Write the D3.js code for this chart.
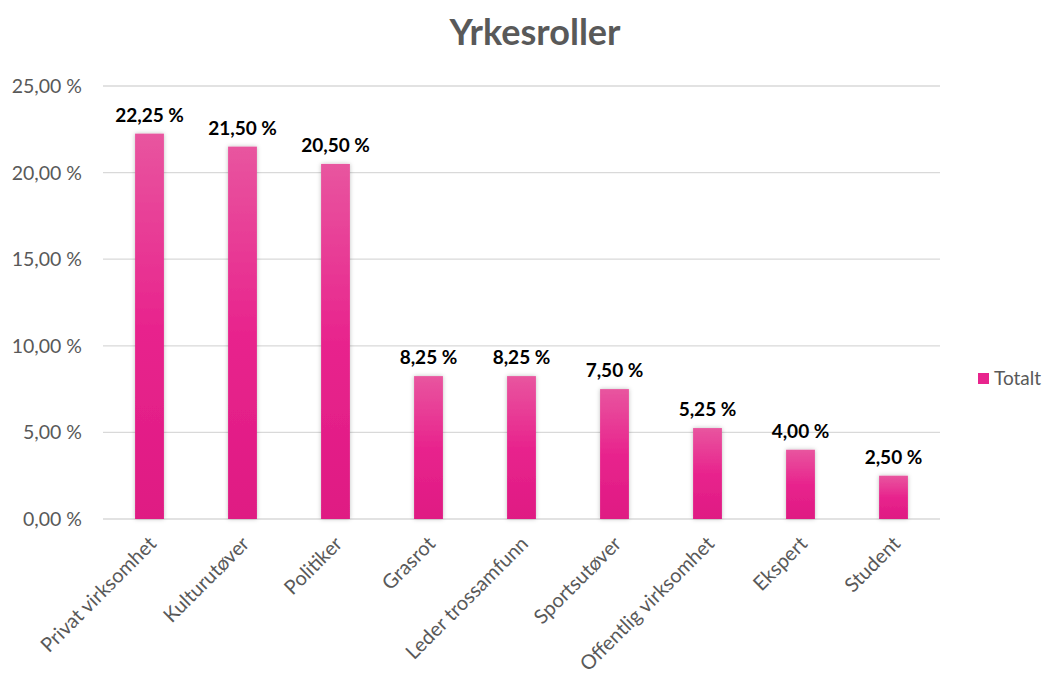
<!DOCTYPE html>
<html><head><meta charset="utf-8">
<script src="https://cdn.jsdelivr.net/npm/d3@7"></script>
<style>body{margin:0;background:#fff;} svg{display:block;}</style>
</head><body><svg id="c" width="1050" height="675"></svg>
<script>
const categories = ["Privat virksomhet","Kulturutøver","Politiker","Grasrot","Leder trossamfunn","Sportsutøver","Offentlig virksomhet","Ekspert","Student"];
const values = [22.25,21.50,20.50,8.25,8.25,7.50,5.25,4.00,2.50];
const yTicks = [0,5,10,15,20,25];
const title = "Yrkesroller";
const seriesName = "Totalt";

const font = "Lato, 'Open Sans', sans-serif";
const svg = d3.select("#c");
const m = {l:103, r:940, t:86, b:519};
const x = d3.scaleBand().domain(categories).range([m.l, m.r]).paddingInner(0.69).paddingOuter(0.345);
const y = d3.scaleLinear().domain([0,25]).range([m.b, m.t]);
const fmt = v => d3.format(".2f")(v).replace(".", ",") + " %";

const defs = svg.append("defs");
const g = defs.append("linearGradient").attr("id","bg").attr("x1",0).attr("y1",0).attr("x2",0).attr("y2",1);
g.append("stop").attr("offset","0%").attr("stop-color","#e8559f");
g.append("stop").attr("offset","50%").attr("stop-color","#e8248d");
g.append("stop").attr("offset","100%").attr("stop-color","#df1a83");
const f = defs.append("filter").attr("id","sh").attr("x","-30%").attr("y","-10%").attr("width","160%").attr("height","120%");
f.append("feDropShadow").attr("dx",0).attr("dy",0).attr("stdDeviation",2).attr("flood-color","#000").attr("flood-opacity",0.25);

svg.append("text").attr("x",535).attr("y",45).attr("text-anchor","middle")
  .attr("font-family",font).attr("font-weight","bold").attr("font-size",36).attr("fill","#595959").text(title);

// gridlines
svg.append("g").selectAll("line").data(yTicks).join("line")
  .attr("x1",m.l).attr("x2",m.r).attr("y1",d=>y(d)).attr("y2",d=>y(d))
  .attr("stroke","#d9d9d9").attr("stroke-width",1.3);

// y labels
svg.append("g").selectAll("text").data(yTicks).join("text")
  .attr("x",82).attr("y",d=>y(d)+7).attr("text-anchor","end")
  .attr("font-family",font).attr("font-size",19.5).attr("fill","#595959").text(d=>fmt(d));

// bars
svg.append("g").selectAll("rect").data(values).join("rect")
  .attr("x",(d,i)=>x(categories[i])).attr("width",x.bandwidth())
  .attr("y",d=>y(d)).attr("height",d=>y(0)-y(d))
  .attr("fill","url(#bg)").attr("filter","url(#sh)");

// value labels
svg.append("g").selectAll("text").data(values).join("text")
  .attr("x",(d,i)=>x(categories[i])+x.bandwidth()/2).attr("y",d=>y(d)-12)
  .attr("text-anchor","middle").attr("font-family",font).attr("font-weight","bold")
  .attr("font-size",19).attr("fill","#000").text(d=>fmt(d));

// x labels
svg.append("g").selectAll("text").data(categories).join("text")
  .attr("transform",d=>`translate(${x(d)+x.bandwidth()/2+8},${m.b+26}) rotate(-45)`)
  .attr("text-anchor","end").attr("font-family",font).attr("font-size",20).attr("fill","#595959").text(d=>d);

// legend
svg.append("rect").attr("x",978).attr("y",373).attr("width",11).attr("height",11).attr("fill","#e8248d");
svg.append("text").attr("x",994).attr("y",385).attr("font-family",font).attr("font-size",19).attr("fill","#595959").text(seriesName);
</script></body></html>
